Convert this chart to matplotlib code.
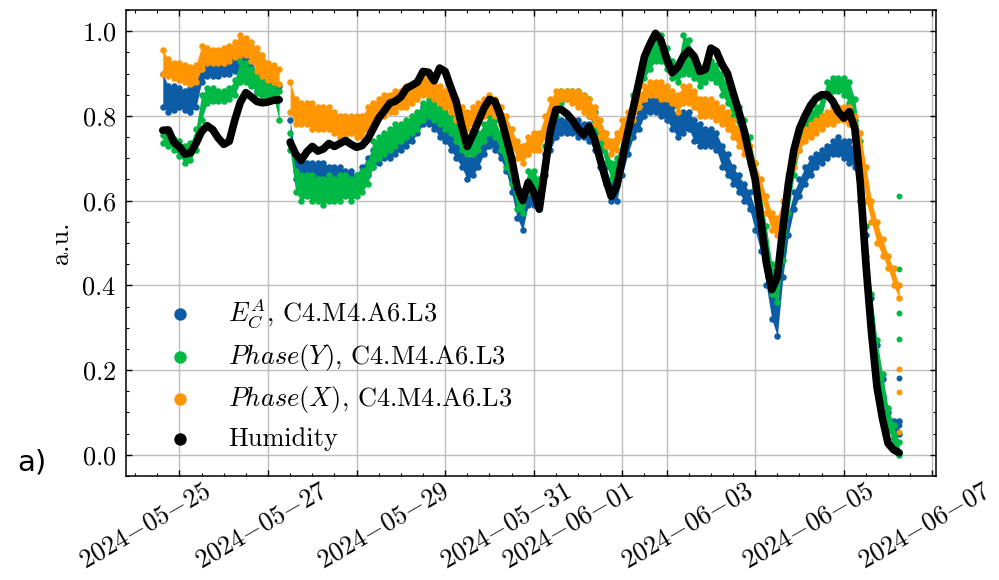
import numpy as np
import pandas as pd
import matplotlib
matplotlib.use("Agg")
import matplotlib.pyplot as plt
import matplotlib.dates as mdates
from matplotlib.ticker import MultipleLocator

# ---------------------- DATA ----------------------
# two measurement runs, sampled every 3 h, gap between them
seg1_time = pd.date_range("2024-05-20 15:00", periods=22, freq="3h")
seg2_time = pd.date_range("2024-05-23 12:00", periods=111, freq="3h")
times = seg1_time.append(seg2_time)
N1 = len(seg1_time)

humidity = [0.766, 0.767, 0.738, 0.727, 0.710, 0.713, 0.735, 0.763, 0.777, 0.768, 0.748,
             0.733, 0.740, 0.790, 0.832, 0.855, 0.845, 0.834, 0.831, 0.833, 0.837, 0.838,
             # run 2
             0.738, 0.710, 0.695, 0.715, 0.728, 0.717, 0.722, 0.735, 0.728, 0.735,
             0.742, 0.733, 0.726, 0.730, 0.745, 0.770, 0.795, 0.812, 0.830, 0.835,
             0.845, 0.865, 0.872, 0.880, 0.905, 0.903, 0.883, 0.913, 0.905, 0.868,
             0.833, 0.776, 0.728, 0.756, 0.787, 0.818, 0.839, 0.834, 0.800, 0.750,
             0.700, 0.632, 0.600, 0.643, 0.620, 0.580, 0.672, 0.765, 0.815, 0.815,
             0.805, 0.790, 0.770, 0.755, 0.775, 0.745, 0.697, 0.650, 0.610, 0.635,
             0.700, 0.762, 0.820, 0.880, 0.940, 0.970, 0.995, 0.978, 0.935, 0.902,
             0.915, 0.940, 0.955, 0.940, 0.905, 0.910, 0.960, 0.952, 0.922, 0.900,
             0.855, 0.812, 0.765, 0.705, 0.650, 0.555, 0.455, 0.390, 0.420, 0.535,
             0.640, 0.720, 0.770, 0.800, 0.825, 0.842, 0.850, 0.850, 0.835, 0.810,
             0.795, 0.810, 0.770, 0.640, 0.450, 0.290, 0.160, 0.085, 0.027, 0.012,
             0.005]

# E_C^A  (lower / upper edge of the point cloud)
ec_lo = [0.82, 0.81, 0.815, 0.82, 0.815, 0.81, 0.82, 0.88, 0.895, 0.895, 0.895,
         0.90, 0.90, 0.905, 0.90, 0.89, 0.875, 0.86, 0.85, 0.845, 0.845, 0.84,
         0.74, 0.65, 0.65, 0.65, 0.65, 0.64, 0.64, 0.63, 0.63, 0.63,
         0.63, 0.62, 0.62, 0.64, 0.66, 0.68, 0.69, 0.70, 0.70, 0.71,
         0.72, 0.73, 0.74, 0.76, 0.78, 0.78, 0.77, 0.75, 0.74, 0.72,
         0.70, 0.68, 0.65, 0.66, 0.68, 0.71, 0.73, 0.72, 0.70, 0.67,
         0.62, 0.56, 0.53, 0.59, 0.59, 0.58, 0.66, 0.72, 0.75, 0.76,
         0.76, 0.76, 0.75, 0.75, 0.74, 0.72, 0.68, 0.64, 0.60, 0.60,
         0.66, 0.71, 0.75, 0.77, 0.80, 0.81, 0.81, 0.80, 0.79, 0.77,
         0.75, 0.76, 0.77, 0.74, 0.73, 0.73, 0.73, 0.72, 0.68, 0.66,
         0.64, 0.62, 0.60, 0.58, 0.53, 0.48, 0.40, 0.32, 0.28, 0.42,
         0.52, 0.58, 0.61, 0.64, 0.66, 0.68, 0.69, 0.70, 0.71, 0.71,
         0.70, 0.69, 0.68, 0.60, 0.45, 0.31, 0.20, 0.14, 0.06, 0.04,
         0.05]
ec_hi = [0.90, 0.87, 0.87, 0.865, 0.86, 0.865, 0.87, 0.935, 0.935, 0.93, 0.93,
         0.935, 0.94, 0.945, 0.95, 0.94, 0.93, 0.90, 0.885, 0.875, 0.88, 0.87,
         0.79, 0.70, 0.70, 0.69, 0.69, 0.69, 0.69, 0.68, 0.68, 0.68,
         0.67, 0.67, 0.66, 0.68, 0.70, 0.72, 0.73, 0.74, 0.74, 0.75,
         0.76, 0.77, 0.78, 0.80, 0.82, 0.81, 0.80, 0.79, 0.78, 0.76,
         0.74, 0.72, 0.70, 0.70, 0.72, 0.75, 0.77, 0.76, 0.74, 0.71,
         0.67, 0.61, 0.58, 0.63, 0.63, 0.62, 0.71, 0.76, 0.79, 0.79,
         0.79, 0.79, 0.79, 0.78, 0.78, 0.76, 0.72, 0.68, 0.64, 0.64,
         0.70, 0.75, 0.79, 0.81, 0.83, 0.84, 0.84, 0.84, 0.83, 0.82,
         0.80, 0.81, 0.81, 0.79, 0.78, 0.77, 0.77, 0.76, 0.73, 0.71,
         0.68, 0.66, 0.64, 0.62, 0.58, 0.53, 0.46, 0.39, 0.36, 0.48,
         0.57, 0.62, 0.65, 0.68, 0.70, 0.71, 0.72, 0.73, 0.74, 0.75,
         0.74, 0.74, 0.72, 0.66, 0.52, 0.37, 0.26, 0.18, 0.10, 0.08,
         0.08]

# Phase(Y)
py_lo = [0.735, 0.73, 0.72, 0.705, 0.69, 0.695, 0.72, 0.79, 0.83, 0.835, 0.835,
         0.835, 0.84, 0.85, 0.88, 0.88, 0.87, 0.855, 0.85, 0.845, 0.845, 0.79,
         0.72, 0.62, 0.60, 0.61, 0.60, 0.60, 0.59, 0.60, 0.60, 0.60,
         0.61, 0.60, 0.61, 0.62, 0.64, 0.68, 0.70, 0.71, 0.72, 0.73,
         0.74, 0.75, 0.76, 0.77, 0.79, 0.80, 0.79, 0.78, 0.77, 0.76,
         0.74, 0.72, 0.71, 0.71, 0.72, 0.74, 0.76, 0.75, 0.72, 0.68,
         0.64, 0.58, 0.57, 0.62, 0.63, 0.60, 0.68, 0.75, 0.80, 0.83,
         0.84, 0.84, 0.83, 0.82, 0.80, 0.77, 0.73, 0.69, 0.65, 0.66,
         0.71, 0.75, 0.81, 0.85, 0.89, 0.91, 0.93, 0.93, 0.91, 0.89,
         0.88, 0.90, 0.90, 0.89, 0.87, 0.88, 0.89, 0.88, 0.85, 0.83,
         0.80, 0.77, 0.74, 0.70, 0.63, 0.56, 0.48, 0.38, 0.36, 0.46,
         0.57, 0.66, 0.72, 0.76, 0.78, 0.79, 0.80, 0.85, 0.86, 0.86,
         0.85, 0.83, 0.79, 0.66, 0.47, 0.32, 0.20, 0.13, 0.06, 0.03,
         0.00]
py_hi = [0.755, 0.75, 0.745, 0.74, 0.73, 0.735, 0.77, 0.85, 0.865, 0.865, 0.86,
         0.86, 0.865, 0.885, 0.93, 0.925, 0.91, 0.90, 0.885, 0.875, 0.87, 0.86,
         0.76, 0.67, 0.66, 0.66, 0.66, 0.65, 0.65, 0.66, 0.65, 0.66,
         0.66, 0.65, 0.66, 0.67, 0.69, 0.74, 0.75, 0.76, 0.77, 0.78,
         0.78, 0.79, 0.80, 0.81, 0.83, 0.84, 0.83, 0.82, 0.81, 0.80,
         0.78, 0.76, 0.75, 0.75, 0.76, 0.78, 0.80, 0.79, 0.76, 0.72,
         0.68, 0.63, 0.62, 0.67, 0.67, 0.65, 0.73, 0.79, 0.84, 0.86,
         0.86, 0.86, 0.86, 0.85, 0.84, 0.81, 0.77, 0.73, 0.69, 0.70,
         0.75, 0.79, 0.85, 0.89, 0.93, 0.96, 0.98, 0.99, 0.96, 0.93,
         0.92, 0.99, 0.98, 0.93, 0.91, 0.92, 0.93, 0.92, 0.90, 0.87,
         0.85, 0.82, 0.79, 0.75, 0.69, 0.62, 0.54, 0.45, 0.42, 0.52,
         0.63, 0.71, 0.76, 0.80, 0.81, 0.82, 0.84, 0.88, 0.89, 0.89,
         0.89, 0.88, 0.84, 0.74, 0.54, 0.38, 0.27, 0.19, 0.11, 0.07,
         0.03]

# Phase(X)
px_lo = [0.90, 0.895, 0.89, 0.885, 0.88, 0.875, 0.88, 0.91, 0.925, 0.925, 0.925,
         0.925, 0.93, 0.94, 0.945, 0.945, 0.93, 0.905, 0.895, 0.885, 0.88, 0.875,
         0.81, 0.78, 0.78, 0.78, 0.77, 0.77, 0.77, 0.77, 0.76, 0.75,
         0.75, 0.76, 0.75, 0.75, 0.77, 0.79, 0.80, 0.80, 0.81, 0.81,
         0.82, 0.82, 0.83, 0.84, 0.85, 0.85, 0.84, 0.83, 0.82, 0.81,
         0.79, 0.78, 0.77, 0.78, 0.79, 0.80, 0.81, 0.80, 0.78, 0.76,
         0.73, 0.70, 0.69, 0.71, 0.72, 0.72, 0.75, 0.80, 0.83, 0.84,
         0.84, 0.83, 0.82, 0.81, 0.80, 0.78, 0.75, 0.73, 0.71, 0.72,
         0.75, 0.77, 0.79, 0.82, 0.84, 0.85, 0.85, 0.84, 0.84, 0.83,
         0.81, 0.83, 0.83, 0.82, 0.80, 0.80, 0.80, 0.79, 0.78, 0.77,
         0.75, 0.73, 0.71, 0.69, 0.65, 0.61, 0.57, 0.53, 0.52, 0.56,
         0.62, 0.68, 0.72, 0.74, 0.75, 0.76, 0.77, 0.78, 0.78, 0.79,
         0.79, 0.78, 0.76, 0.70, 0.60, 0.55, 0.50, 0.47, 0.44, 0.40,
         0.37]
px_hi = [0.955, 0.935, 0.925, 0.925, 0.92, 0.915, 0.92, 0.965, 0.96, 0.955, 0.955,
         0.96, 0.965, 0.975, 0.99, 0.985, 0.975, 0.96, 0.945, 0.925, 0.92, 0.91,
         0.88, 0.84, 0.83, 0.83, 0.83, 0.82, 0.82, 0.82, 0.81, 0.80,
         0.80, 0.80, 0.80, 0.80, 0.82, 0.83, 0.84, 0.85, 0.85, 0.86,
         0.86, 0.87, 0.87, 0.88, 0.89, 0.89, 0.88, 0.87, 0.86, 0.85,
         0.84, 0.82, 0.81, 0.82, 0.83, 0.84, 0.85, 0.84, 0.82, 0.80,
         0.77, 0.74, 0.73, 0.75, 0.76, 0.76, 0.80, 0.84, 0.86, 0.86,
         0.86, 0.86, 0.86, 0.85, 0.84, 0.82, 0.79, 0.76, 0.74, 0.76,
         0.79, 0.81, 0.83, 0.85, 0.87, 0.88, 0.88, 0.88, 0.87, 0.86,
         0.85, 0.87, 0.87, 0.86, 0.84, 0.84, 0.84, 0.83, 0.82, 0.81,
         0.79, 0.77, 0.75, 0.73, 0.69, 0.65, 0.61, 0.57, 0.56, 0.60,
         0.66, 0.72, 0.75, 0.77, 0.78, 0.79, 0.80, 0.81, 0.82, 0.82,
         0.82, 0.82, 0.80, 0.76, 0.68, 0.60, 0.55, 0.51, 0.47, 0.44,
         0.40]

# scattered last readings
tail_time = pd.Timestamp("2024-06-06 06:00")
tail_ec = [0.181, 0.071]
tail_py = [0.611, 0.438, 0.335, 0.273]
tail_px = [0.202, 0.148, 0.054]

date_labels = ["2024-05-25", "2024-05-27", "2024-05-29", "2024-05-31",
               "2024-06-01", "2024-06-03", "2024-06-05", "2024-06-07"]

C_BLUE, C_GREEN, C_ORANGE = "#0C5DA5", "#00B945", "#FF9500"

# ---------------------- STYLE ----------------------
plt.rcParams.update({
    "font.family": "cmr10",
    "mathtext.fontset": "cm",
    "axes.formatter.use_mathtext": True,
    "font.size": 19,
    "axes.linewidth": 1.1,
    "axes.axisbelow": True,
    "xtick.direction": "in", "ytick.direction": "in",
    "xtick.top": True, "ytick.right": True,
    "xtick.major.size": 4.5, "ytick.major.size": 4.5,
    "xtick.minor.size": 2.5, "ytick.minor.size": 2.5,
    "xtick.major.width": 1.0, "ytick.major.width": 1.0,
    "xtick.minor.width": 0.8, "ytick.minor.width": 0.8,
    "xtick.minor.visible": True, "ytick.minor.visible": True,
})

fig = plt.figure(figsize=(9.99, 5.8), dpi=100)
ax = fig.add_axes([0.1261, 0.1793, 0.8108, 0.8034])

def cloud(lo, hi, tail, color, label):
    lo, hi = np.array(lo), np.array(hi)
    for sl in (slice(0, N1), slice(N1, None)):
        ax.fill_between(times[sl], lo[sl], hi[sl], color=color, lw=0, zorder=2)
        ax.scatter(times[sl], lo[sl], s=22, color=color, lw=0, zorder=2)
        ax.scatter(times[sl], hi[sl], s=22, color=color, lw=0, zorder=2)
    ax.scatter([tail_time] * len(tail), tail, s=18, color=color, lw=0, zorder=2)
    ax.scatter([], [], s=80, color=color, lw=0, label=label)

cloud(ec_lo, ec_hi, tail_ec, C_BLUE, r"$E_C^A$, C4.M4.A6.L3")
cloud(py_lo, py_hi, tail_py, C_GREEN, r"$Phase(Y)$, C4.M4.A6.L3")
cloud(px_lo, px_hi, tail_px, C_ORANGE, r"$Phase(X)$, C4.M4.A6.L3")

ax.plot(times[:N1], humidity[:N1], color="k", lw=5.5, solid_capstyle="round",
        solid_joinstyle="round", zorder=3)
ax.plot(times[N1:], humidity[N1:], color="k", lw=5.5, solid_capstyle="round",
        solid_joinstyle="round", zorder=3)
ax.scatter([], [], s=80, color="k", lw=0, label="Humidity")

ax.set_ylim(-0.05, 1.05)
ax.yaxis.set_major_locator(MultipleLocator(0.2))
ax.yaxis.set_minor_locator(MultipleLocator(0.05))
ax.xaxis.set_major_locator(mdates.DayLocator(bymonthday=range(1, 32, 2)))
ax.xaxis.set_minor_locator(mdates.HourLocator(byhour=[0, 12]))
ax.tick_params(axis="x", labelbottom=False)
ax.tick_params(axis="y", pad=7)
ax.grid(True, which="major", color="#bdbdbd", lw=1.0)
ax.set_ylabel("a.u.", labelpad=6)

ax.legend(loc="lower left", bbox_to_anchor=(0.011, 0.014), frameon=False,
          handletextpad=0.82, labelspacing=0.45, borderpad=0.2)

# date labels, placed as in the original panel
label_x_px = [215, 332, 453, 575, 637, 757, 878, 995]
for s, xp in zip(date_labels, label_x_px):
    fig.text(xp / 999, 1 - 479 / 580, "$" + s.replace("-", "{-}") + "$",
             rotation=30, ha="right", va="top", fontsize=19)

fig.text(17 / 999, 1 - 471 / 580, "a)", family="DejaVu Sans", fontsize=21,
         va="baseline")

fig.savefig("out.png", dpi=100)
